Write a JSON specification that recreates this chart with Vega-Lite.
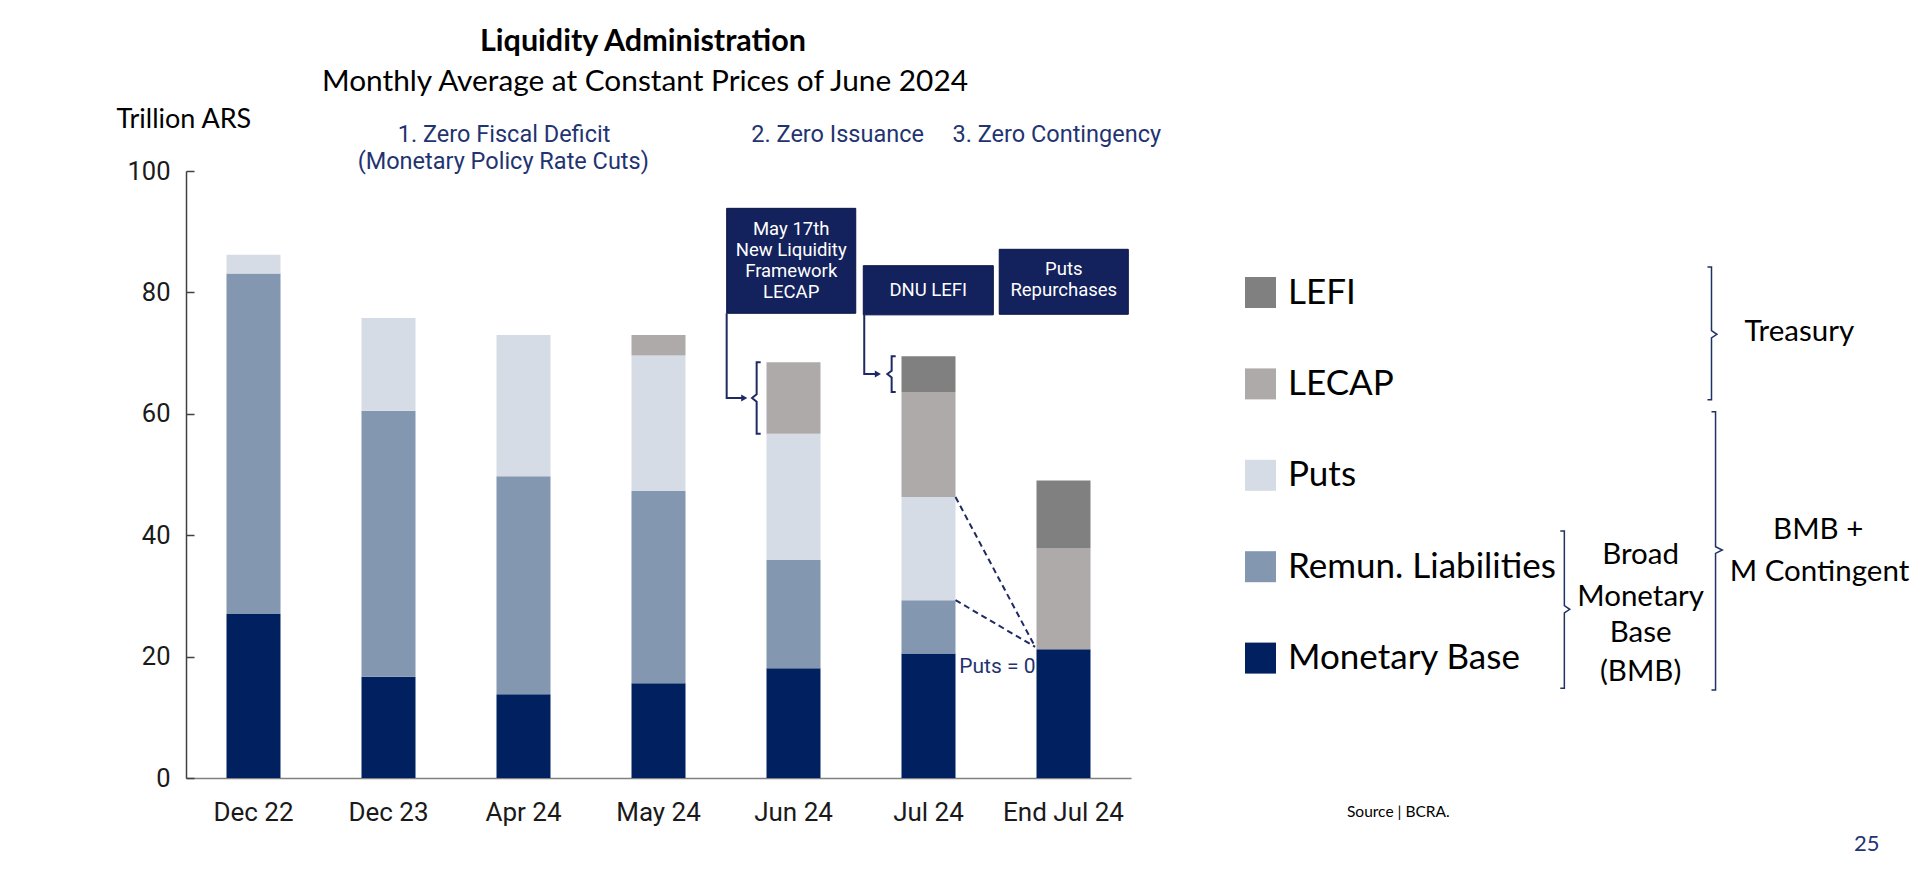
{
  "$schema": "https://vega.github.io/schema/vega-lite/v6.json",
  "width": 945,
  "height": 607,
  "autosize": {"type": "none"},
  "padding": {"left": 186, "top": 171, "right": 789, "bottom": 100},
  "background": "white",
  "config": {"view": {"stroke": null}, "font": "Roboto"},
  "datasets": {
    "bars": [
      {"period": "Dec 22", "series": "Monetary Base", "value": 27.0},
      {"period": "Dec 22", "series": "Remun. Liabilities", "value": 56.1},
      {"period": "Dec 22", "series": "Puts", "value": 3.1},
      {"period": "Dec 23", "series": "Monetary Base", "value": 16.7},
      {"period": "Dec 23", "series": "Remun. Liabilities", "value": 43.8},
      {"period": "Dec 23", "series": "Puts", "value": 15.3},
      {"period": "Apr 24", "series": "Monetary Base", "value": 13.8},
      {"period": "Apr 24", "series": "Remun. Liabilities", "value": 35.9},
      {"period": "Apr 24", "series": "Puts", "value": 23.3},
      {"period": "May 24", "series": "Monetary Base", "value": 15.6},
      {"period": "May 24", "series": "Remun. Liabilities", "value": 31.7},
      {"period": "May 24", "series": "Puts", "value": 22.3},
      {"period": "May 24", "series": "LECAP", "value": 3.4},
      {"period": "Jun 24", "series": "Monetary Base", "value": 18.1},
      {"period": "Jun 24", "series": "Remun. Liabilities", "value": 17.8},
      {"period": "Jun 24", "series": "Puts", "value": 20.8},
      {"period": "Jun 24", "series": "LECAP", "value": 11.8},
      {"period": "Jul 24", "series": "Monetary Base", "value": 20.5},
      {"period": "Jul 24", "series": "Remun. Liabilities", "value": 8.8},
      {"period": "Jul 24", "series": "Puts", "value": 17.0},
      {"period": "Jul 24", "series": "LECAP", "value": 17.3},
      {"period": "Jul 24", "series": "LEFI", "value": 5.9},
      {"period": "End Jul 24", "series": "Monetary Base", "value": 21.2},
      {"period": "End Jul 24", "series": "LECAP", "value": 16.7},
      {"period": "End Jul 24", "series": "LEFI", "value": 11.1}
    ],
    "boxes": [
      {"x1": 4.005, "x2": 4.961, "y1": 93.85, "y2": 76.56},
      {"x1": 5.017, "x2": 5.98, "y1": 84.4, "y2": 76.3},
      {"x1": 6.024, "x2": 6.98, "y1": 87.1, "y2": 76.4}
    ],
    "boxText": [
      {"label": "May 17th\nNew Liquidity\nFramework\nLECAP", "x": 4.483, "y": 90.4},
      {"label": "DNU LEFI", "x": 5.498, "y": 80.4},
      {"label": "Puts\nRepurchases", "x": 6.502, "y": 83.8}
    ],
    "connectors": [
      {"path": "a1", "ord": 1, "x": 4.005, "y": 76.56},
      {"path": "a1", "ord": 2, "x": 4.005, "y": 62.6},
      {"path": "a1", "ord": 3, "x": 4.13, "y": 62.6},
      {"path": "b1", "ord": 1, "x": 4.257, "y": 68.5},
      {"path": "b1", "ord": 2, "x": 4.227, "y": 68.5},
      {"path": "b1", "ord": 3, "x": 4.227, "y": 63.2},
      {"path": "b1", "ord": 4, "x": 4.193, "y": 62.6},
      {"path": "b1", "ord": 5, "x": 4.227, "y": 62.0},
      {"path": "b1", "ord": 6, "x": 4.227, "y": 56.7},
      {"path": "b1", "ord": 7, "x": 4.257, "y": 56.7},
      {"path": "a2", "ord": 1, "x": 5.024, "y": 76.3},
      {"path": "a2", "ord": 2, "x": 5.024, "y": 66.55},
      {"path": "a2", "ord": 3, "x": 5.12, "y": 66.55},
      {"path": "b2", "ord": 1, "x": 5.257, "y": 69.5},
      {"path": "b2", "ord": 2, "x": 5.227, "y": 69.5},
      {"path": "b2", "ord": 3, "x": 5.227, "y": 67.1},
      {"path": "b2", "ord": 4, "x": 5.195, "y": 66.55},
      {"path": "b2", "ord": 5, "x": 5.227, "y": 66.0},
      {"path": "b2", "ord": 6, "x": 5.227, "y": 63.6},
      {"path": "b2", "ord": 7, "x": 5.257, "y": 63.6}
    ],
    "braces": [
      {"path": "r1", "ord": 1, "x": 11.27, "y": 84.2},
      {"path": "r1", "ord": 2, "x": 11.3, "y": 84.2},
      {"path": "r1", "ord": 3, "x": 11.3, "y": 73.7},
      {"path": "r1", "ord": 4, "x": 11.34, "y": 73.1},
      {"path": "r1", "ord": 5, "x": 11.3, "y": 72.5},
      {"path": "r1", "ord": 6, "x": 11.3, "y": 62.3},
      {"path": "r1", "ord": 7, "x": 11.27, "y": 62.3},
      {"path": "r2", "ord": 1, "x": 11.3, "y": 60.35},
      {"path": "r2", "ord": 2, "x": 11.33, "y": 60.35},
      {"path": "r2", "ord": 3, "x": 11.33, "y": 38.1},
      {"path": "r2", "ord": 4, "x": 11.38, "y": 37.56},
      {"path": "r2", "ord": 5, "x": 11.33, "y": 37.0},
      {"path": "r2", "ord": 6, "x": 11.33, "y": 14.5},
      {"path": "r2", "ord": 7, "x": 11.3, "y": 14.5},
      {"path": "r3", "ord": 1, "x": 10.18, "y": 40.7},
      {"path": "r3", "ord": 2, "x": 10.21, "y": 40.7},
      {"path": "r3", "ord": 3, "x": 10.21, "y": 28.4},
      {"path": "r3", "ord": 4, "x": 10.25, "y": 27.8},
      {"path": "r3", "ord": 5, "x": 10.21, "y": 27.2},
      {"path": "r3", "ord": 6, "x": 10.21, "y": 14.8},
      {"path": "r3", "ord": 7, "x": 10.18, "y": 14.8}
    ],
    "arrowheads": [
      {"x": 4.135, "y": 62.6},
      {"x": 5.125, "y": 66.55}
    ],
    "dashes": [
      {"path": "d1", "ord": 1, "x": 5.7, "y": 46.3},
      {"path": "d1", "ord": 2, "x": 6.29, "y": 21.6},
      {"path": "d2", "ord": 1, "x": 5.7, "y": 29.3},
      {"path": "d2", "ord": 2, "x": 6.29, "y": 21.6}
    ],
    "phases": [
      {"label": "1. Zero Fiscal Deficit", "x": 2.356, "y": 106.0},
      {"label": "(Monetary Policy Rate Cuts)", "x": 2.35, "y": 101.55},
      {"label": "2. Zero Issuance", "x": 4.827, "y": 106.0},
      {"label": "3. Zero Contingency", "x": 6.45, "y": 106.0}
    ],
    "putsZero": [{"label": "Puts = 0", "x": 5.728, "y": 18.3}],
    "titleText": [{"label": "Liquidity Administration", "x": 3.385, "y": 121.3}],
    "subtitleText": [{"label": "Monthly Average at Constant Prices of June 2024", "x": 3.4, "y": 114.66}],
    "groupText": [
      {"label": "Treasury", "x": 11.95, "y": 73.5},
      {"label": "BMB +", "x": 12.09, "y": 40.86},
      {"label": "M Contingent", "x": 12.1, "y": 33.99},
      {"label": "Broad", "x": 10.775, "y": 36.74},
      {"label": "Monetary", "x": 10.775, "y": 29.87},
      {"label": "Base", "x": 10.775, "y": 23.89},
      {"label": "(BMB)", "x": 10.775, "y": 17.5}
    ],
    "sourceText": [{"label": "Source | BCRA.", "x": 8.6, "y": -5.6}],
    "pageText": [{"label": "25", "x": 12.45, "y": -10.8}]
  },
  "layer": [
    {
      "data": {"name": "bars"},
      "transform": [
        {"calculate": "indexof(['Monetary Base','Remun. Liabilities','Puts','LECAP','LEFI'], datum.series)", "as": "stackRank"}
      ],
      "mark": {"type": "bar"},
      "encoding": {
        "x": {
          "field": "period", "type": "nominal",
          "sort": ["Dec 22", "Dec 23", "Apr 24", "May 24", "Jun 24", "Jul 24", "End Jul 24"],
          "scale": {"paddingInner": 0.6, "paddingOuter": 0.3},
          "axis": {"title": null, "labelAngle": 0, "labelFont": "Roboto", "labelFontSize": 26, "labelColor": "#1a1a1a", "labelPadding": 21, "ticks": false, "domainColor": "#808080", "domainWidth": 1.5}
        },
        "y": {
          "field": "value", "type": "quantitative", "stack": "zero",
          "scale": {"domain": [0, 100], "nice": false},
          "axis": {
            "title": "Trillion ARS", "titleFont": "Lato", "titleFontSize": 27, "titleFontWeight": "normal", "titleColor": "#000000",
            "titleAngle": 0, "titleAlign": "left", "titleBaseline": "alphabetic", "titleX": -70, "titleY": -44,
            "values": [0, 20, 40, 60, 80, 100], "grid": false,
            "labelFont": "Roboto", "labelFontSize": 25.5, "labelColor": "#1a1a1a", "labelPadding": 24,
            "tickSize": -8, "tickColor": "#404040", "domainColor": "#404040", "domainWidth": 1.5, "tickWidth": 1.5
          }
        },
        "color": {
          "field": "series", "type": "nominal",
          "scale": {
            "domain": ["LEFI", "LECAP", "Puts", "Remun. Liabilities", "Monetary Base"],
            "range": ["#808080", "#AEAAAA", "#D6DCE5", "#8497B0", "#002060"]
          },
          "legend": {
            "orient": "none", "legendX": 1057, "legendY": 104, "title": null, "padding": 0,
            "symbolType": "square", "symbolSize": 961, "symbolStrokeWidth": 0, "symbolOpacity": 1,
            "labelFont": "Lato", "labelFontSize": 35, "labelColor": "#000000", "labelOffset": 10,
            "rowPadding": 55.4, "labelLimit": 400
          }
        },
        "order": {"field": "stackRank", "type": "quantitative", "sort": "ascending"}
      }
    },
    {
      "data": {"name": "boxes"},
      "mark": {"type": "rect", "color": "#13215C", "stroke": "#0B1545", "strokeWidth": 1},
      "encoding": {
        "x": {"field": "x1", "type": "quantitative", "scale": {"domain": [0, 7], "nice": false, "zero": false}, "axis": null},
        "x2": {"field": "x2"},
        "y": {"field": "y1", "type": "quantitative", "scale": {"domain": [0, 100], "nice": false}},
        "y2": {"field": "y2"}
      }
    },
    {
      "data": {"name": "boxText"},
      "mark": {"type": "text", "color": "#FFFFFF", "font": "Roboto", "fontSize": 18.5, "lineHeight": 20.8, "lineBreak": "\n", "align": "center", "baseline": "middle"},
      "encoding": {
        "x": {"field": "x", "type": "quantitative", "scale": {"domain": [0, 7], "nice": false, "zero": false}, "axis": null},
        "y": {"field": "y", "type": "quantitative", "scale": {"domain": [0, 100], "nice": false}},
        "text": {"field": "label", "type": "nominal"}
      }
    },
    {
      "data": {"name": "connectors"},
      "mark": {"type": "line", "color": "#1F2A63", "strokeWidth": 2},
      "encoding": {
        "x": {"field": "x", "type": "quantitative", "scale": {"domain": [0, 7], "nice": false, "zero": false}, "axis": null},
        "y": {"field": "y", "type": "quantitative", "scale": {"domain": [0, 100], "nice": false}},
        "detail": {"field": "path", "type": "nominal"},
        "order": {"field": "ord", "type": "quantitative"}
      }
    },
    {
      "data": {"name": "arrowheads"},
      "mark": {"type": "point", "shape": "triangle-right", "filled": true, "size": 50, "color": "#1F2A63", "opacity": 1},
      "encoding": {
        "x": {"field": "x", "type": "quantitative", "scale": {"domain": [0, 7], "nice": false, "zero": false}, "axis": null},
        "y": {"field": "y", "type": "quantitative", "scale": {"domain": [0, 100], "nice": false}}
      }
    },
    {
      "data": {"name": "dashes"},
      "mark": {"type": "line", "color": "#1F2A63", "strokeWidth": 2, "strokeDash": [6, 4]},
      "encoding": {
        "x": {"field": "x", "type": "quantitative", "scale": {"domain": [0, 7], "nice": false, "zero": false}, "axis": null},
        "y": {"field": "y", "type": "quantitative", "scale": {"domain": [0, 100], "nice": false}},
        "detail": {"field": "path", "type": "nominal"},
        "order": {"field": "ord", "type": "quantitative"}
      }
    },
    {
      "data": {"name": "braces"},
      "mark": {"type": "line", "color": "#1F3264", "strokeWidth": 1.5},
      "encoding": {
        "x": {"field": "x", "type": "quantitative", "scale": {"domain": [0, 7], "nice": false, "zero": false}, "axis": null},
        "y": {"field": "y", "type": "quantitative", "scale": {"domain": [0, 100], "nice": false}},
        "detail": {"field": "path", "type": "nominal"},
        "order": {"field": "ord", "type": "quantitative"}
      }
    },
    {
      "data": {"name": "phases"},
      "mark": {"type": "text", "color": "#1F3470", "font": "Roboto", "fontSize": 23.5, "align": "center", "baseline": "middle"},
      "encoding": {
        "x": {"field": "x", "type": "quantitative", "scale": {"domain": [0, 7], "nice": false, "zero": false}, "axis": null},
        "y": {"field": "y", "type": "quantitative", "scale": {"domain": [0, 100], "nice": false}},
        "text": {"field": "label", "type": "nominal"}
      }
    },
    {
      "data": {"name": "putsZero"},
      "mark": {"type": "text", "color": "#1F3470", "font": "Roboto", "fontSize": 21, "align": "left", "baseline": "middle"},
      "encoding": {
        "x": {"field": "x", "type": "quantitative", "scale": {"domain": [0, 7], "nice": false, "zero": false}, "axis": null},
        "y": {"field": "y", "type": "quantitative", "scale": {"domain": [0, 100], "nice": false}},
        "text": {"field": "label", "type": "nominal"}
      }
    },
    {
      "data": {"name": "titleText"},
      "mark": {"type": "text", "color": "#000000", "font": "Lato", "fontSize": 30.5, "fontWeight": "bold", "align": "center", "baseline": "middle"},
      "encoding": {
        "x": {"field": "x", "type": "quantitative", "scale": {"domain": [0, 7], "nice": false, "zero": false}, "axis": null},
        "y": {"field": "y", "type": "quantitative", "scale": {"domain": [0, 100], "nice": false}},
        "text": {"field": "label", "type": "nominal"}
      }
    },
    {
      "data": {"name": "subtitleText"},
      "mark": {"type": "text", "color": "#000000", "font": "Lato", "fontSize": 29.8, "align": "center", "baseline": "middle"},
      "encoding": {
        "x": {"field": "x", "type": "quantitative", "scale": {"domain": [0, 7], "nice": false, "zero": false}, "axis": null},
        "y": {"field": "y", "type": "quantitative", "scale": {"domain": [0, 100], "nice": false}},
        "text": {"field": "label", "type": "nominal"}
      }
    },
    {
      "data": {"name": "groupText"},
      "mark": {"type": "text", "color": "#000000", "font": "Lato", "fontSize": 29.5, "align": "center", "baseline": "middle"},
      "encoding": {
        "x": {"field": "x", "type": "quantitative", "scale": {"domain": [0, 7], "nice": false, "zero": false}, "axis": null},
        "y": {"field": "y", "type": "quantitative", "scale": {"domain": [0, 100], "nice": false}},
        "text": {"field": "label", "type": "nominal"}
      }
    },
    {
      "data": {"name": "sourceText"},
      "mark": {"type": "text", "color": "#000000", "font": "Lato", "fontSize": 15.5, "align": "left", "baseline": "middle"},
      "encoding": {
        "x": {"field": "x", "type": "quantitative", "scale": {"domain": [0, 7], "nice": false, "zero": false}, "axis": null},
        "y": {"field": "y", "type": "quantitative", "scale": {"domain": [0, 100], "nice": false}},
        "text": {"field": "label", "type": "nominal"}
      }
    },
    {
      "data": {"name": "pageText"},
      "mark": {"type": "text", "color": "#1F3470", "font": "Lato", "fontSize": 22, "align": "center", "baseline": "middle"},
      "encoding": {
        "x": {"field": "x", "type": "quantitative", "scale": {"domain": [0, 7], "nice": false, "zero": false}, "axis": null},
        "y": {"field": "y", "type": "quantitative", "scale": {"domain": [0, 100], "nice": false}},
        "text": {"field": "label", "type": "nominal"}
      }
    }
  ],
  "resolve": {"scale": {"x": "independent"}}
}
